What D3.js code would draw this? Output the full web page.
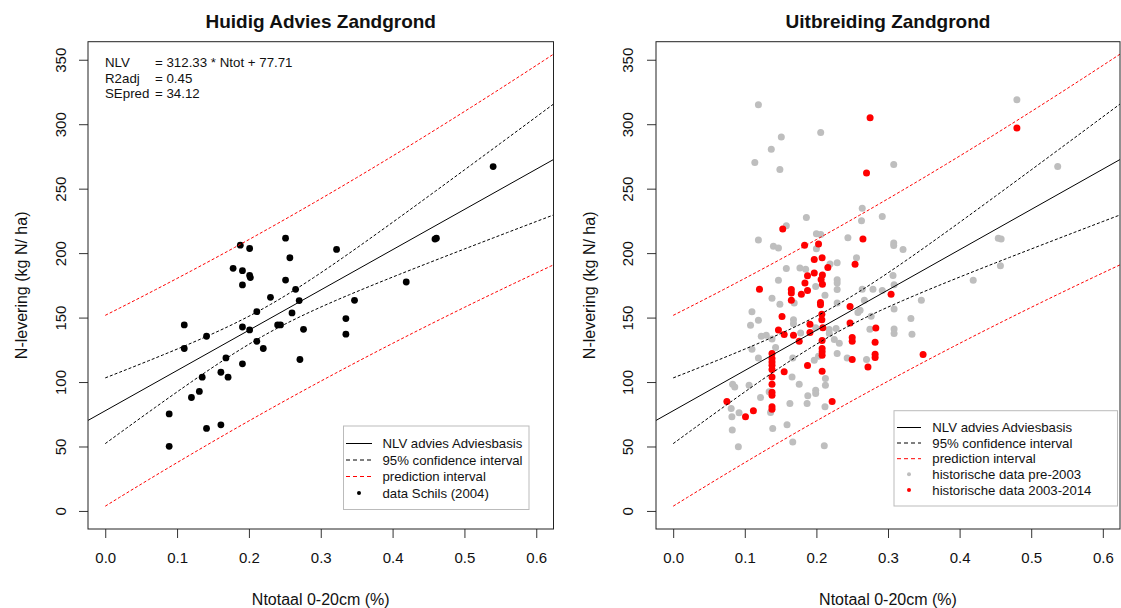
<!DOCTYPE html>
<html><head><meta charset="utf-8">
<script src="https://cdn.jsdelivr.net/npm/d3@7"></script>
<style>
body{margin:0;background:#fff}
svg text{font-family:Arial,"Liberation Sans",sans-serif;fill:#111}
</style>
</head><body>
<svg id="chart" width="1121" height="608"></svg>
<script>
// ---------- data ----------
const xTickValues = [0.0, 0.1, 0.2, 0.3, 0.4, 0.5, 0.6];
const yTickValues = [0, 50, 100, 150, 200, 250, 300, 350];
const titles = ["Huidig Advies Zandgrond", "Uitbreiding Zandgrond"];
const xAxisTitle = "Ntotaal 0-20cm (%)";
const yAxisTitle = "N-levering (kg N/ ha)";
const annotationLabels = ["NLV", "R2adj", "SEpred"];
const annotationValues = ["= 312.33 * Ntot + 77.71", "= 0.45", "= 34.12"];
const legendLeft = ["NLV advies Adviesbasis", "95% confidence interval", "prediction interval", "data Schils (2004)"];
const legendRight = ["NLV advies Adviesbasis", "95% confidence interval", "prediction interval", "historische data pre-2003", "historische data 2003-2014"];

// regression model (from figure annotation) and band parameters
const fitSlope = 312.33, fitIntercept = 77.71;
const fitN = 43, fitXMean = 0.223, fitSxx = 0.447, fitSigma = 34.4, fitT = 2.02;

// data Schils (2004): [Ntot, NLV]
const schilsData = [
 [0.540,267.1],[0.459,210.9],[0.461,211.6],[0.188,206.2],[0.201,203.6],[0.251,211.6],[0.322,202.9],
 [0.257,196.4],[0.178,188.2],[0.191,186.4],[0.201,182.7],[0.202,181.0],[0.191,175.3],[0.251,179.1],
 [0.419,177.6],[0.265,171.9],[0.230,165.7],[0.270,163.2],[0.347,163.4],[0.211,154.6],[0.260,153.6],
 [0.110,144.3],[0.191,142.7],[0.201,140.4],[0.240,144.3],[0.244,144.3],[0.276,140.9],[0.335,149.2],
 [0.335,137.1],[0.141,135.5],[0.110,126.0],[0.211,131.6],[0.220,126.0],[0.168,118.7],[0.271,117.5],
 [0.191,114.1],[0.135,103.8],[0.161,107.6],[0.171,103.8],[0.131,92.7],[0.120,88.0],[0.089,75.3],
 [0.141,64.0],[0.161,66.8],[0.089,50.1]
];

// historische data pre-2003 (grey)
const pre2003Data = [
 [0.119,315],[0.480,319],[0.151,290],[0.206,293.5],[0.137,280.6],[0.114,270.3],[0.149,264.8],[0.308,268.7],
 [0.537,267.1],[0.264,234.9],[0.186,227.7],[0.292,228.4],[0.263,225.1],[0.158,221.2],[0.119,210.1],[0.200,215],
 [0.206,214.5],[0.244,212],[0.454,211.6],[0.458,210.9],[0.140,205.4],[0.147,203.9],[0.200,203.4],[0.308,207.8],
 [0.308,206],[0.321,202.9],[0.256,196.4],[0.229,192.6],[0.219,191.5],[0.457,190.3],[0.158,188],[0.177,188.5],
 [0.185,187.5],[0.147,178.9],[0.229,179.4],[0.229,176.8],[0.264,171.9],[0.279,171.9],[0.3085,175.5],[0.419,178.9],
 [0.169,161.3],[0.138,164.9],[0.229,161.3],[0.212,167.3],[0.229,171.7],[0.267,163.4],[0.3466,163.4],[0.3085,156.7],
 [0.110,154.6],[0.119,147.9],[0.108,144],[0.168,148.4],[0.168,145.3],[0.199,142.2],[0.123,135.5],[0.130,136.3],
 [0.138,133.4],[0.178,138.1],[0.218,140.7],[0.218,137.6],[0.2275,141.5],[0.258,153.9],[0.261,155.6],[0.2765,151],
 [0.2747,140.9],[0.3085,141.2],[0.3085,137.6],[0.332,149.2],[0.3335,137.1],[0.143,126.8],[0.110,125.4],[0.229,122.1],
 [0.243,118.7],[0.270,117.5],[0.119,118.7],[0.167,118.7],[0.197,116.9],[0.166,104],[0.2126,102.8],[0.2126,97.6],
 [0.083,98.3],[0.086,96.2],[0.106,97.6],[0.176,98.3],[0.199,93.7],[0.199,91.1],[0.134,92.4],[0.122,88],
 [0.188,89.3],[0.163,83.4],[0.187,83.4],[0.081,79.5],[0.092,76.1],[0.082,73],[0.136,76.4],[0.212,80.8],
 [0.0825,62.7],[0.139,64],[0.159,66.8],[0.091,49.8],[0.167,53.4],[0.211,50.6],[0.225,133],[0.232,130],
 [0.203,120],[0.199,174.2],[0.292,171.1],[0.307,182.7],[0.149,160.3]
];

// historische data 2003-2014 (red)
const post2003Data = [
 [0.275,305.1],[0.480,297.1],[0.270,262.2],[0.153,218.7],[0.1835,206.2],[0.203,207],[0.265,210.9],[0.197,195.1],
 [0.208,196.4],[0.216,188.9],[0.254,191.3],[0.1876,182.5],[0.2084,183],[0.197,184.5],[0.184,176.8],[0.2066,179.6],
 [0.2084,175.8],[0.3043,168],[0.1205,171.9],[0.165,171.7],[0.165,169],[0.179,168],[0.1876,171.1],[0.165,163.4],
 [0.2057,161.6],[0.2057,160],[0.247,158.5],[0.152,150.8],[0.2076,152.5],[0.2076,148.4],[0.191,144.8],[0.209,142.2],
 [0.147,140.4],[0.155,136.8],[0.168,136.3],[0.191,138.4],[0.247,145.8],[0.283,141.9],[0.250,134.5],[0.250,131.6],
 [0.176,131.6],[0.208,132.2],[0.282,130.9],[0.138,122.1],[0.138,118.2],[0.138,115.6],[0.138,113],[0.208,126],
 [0.208,123.4],[0.208,120.8],[0.282,121.6],[0.282,119],[0.250,117.5],[0.349,121.3],[0.1876,112.8],[0.272,111.7],
 [0.138,109.7],[0.138,104],[0.138,98.3],[0.155,107.9],[0.208,108.4],[0.138,92.1],[0.138,89.8],[0.222,84.9],
 [0.075,84.9],[0.138,80.8],[0.138,78.8],[0.112,77.7],[0.101,73]
];

// ---------- layout ----------
const svg = d3.select("#chart");
const xLim = [-0.024, 0.624], yLim = [-14, 364];
const plotTop = 41.7, plotBottom = 529;
const panels = [
 {x0: 88, x1: 553.5, yTickX: 65.5, yTitleX: 27, legend: legendLeft,
  legendBox: {x: 343.5, y: 426, w: 185.5, h: 83.5}, legendRows: [443.5, 460, 476.5, 493],
  legendLine: [346, 372], legendText: 382.5},
 {x0: 656, x1: 1120, yTickX: 632.7, yTitleX: 595, legend: legendRight,
  legendBox: {x: 894, y: 410.7, w: 223.5, h: 95.3}, legendRows: [427.5, 443, 458.7, 474.3, 490],
  legendLine: [897, 921], legendText: 932.3}
];

function band(xv, mult, pred) {
  const se = Math.sqrt(1 / fitN + (xv - fitXMean) ** 2 / fitSxx);
  const hw = fitT * fitSigma * (pred ? Math.sqrt(1 + se * se) : se);
  return fitIntercept + fitSlope * xv + mult * hw;
}
const bandGrid = d3.range(0, 0.7001, 0.01);

panels.forEach((p, i) => {
  const x = d3.scaleLinear().domain(xLim).range([p.x0, p.x1]);
  const y = d3.scaleLinear().domain(yLim).range([plotBottom, plotTop]);
  const g = svg.append("g");
  const clipId = "clip" + i;
  svg.append("clipPath").attr("id", clipId).append("rect")
    .attr("x", p.x0).attr("y", plotTop).attr("width", p.x1 - p.x0).attr("height", plotBottom - plotTop);

  // title
  g.append("text").attr("x", (p.x0 + p.x1) / 2).attr("y", 28).attr("text-anchor", "middle")
    .style("font-size", "19px").style("font-weight", "bold").text(titles[i]);

  // axes
  const xa = g.append("g").attr("transform", `translate(0,${plotBottom})`)
    .call(d3.axisBottom(x).tickValues(xTickValues).tickFormat(d3.format(".1f")).tickSize(9).tickSizeOuter(0).tickPadding(14));
  xa.selectAll("text").style("font-size", "15px").style("font-family", "Arial, 'Liberation Sans', sans-serif").attr("fill", "#111");
  xa.selectAll("line").attr("stroke", "#333");
  xa.select(".domain").remove();

  const ya = g.append("g").attr("transform", `translate(${p.x0},0)`)
    .call(d3.axisLeft(y).tickValues(yTickValues).tickSize(9).tickSizeOuter(0));
  ya.selectAll("text").style("font-size", "15px").style("font-family", "Arial, 'Liberation Sans', sans-serif")
    .attr("fill", "#111").attr("x", 0).attr("dy", null).attr("text-anchor", "middle")
    .attr("transform", `translate(${p.yTickX - p.x0},0) rotate(-90)`);
  ya.selectAll("line").attr("stroke", "#333");
  ya.select(".domain").remove();

  // axis titles
  g.append("text").attr("x", (p.x0 + p.x1) / 2).attr("y", 605).attr("text-anchor", "middle")
    .style("font-size", "16px").text(xAxisTitle);
  g.append("text").attr("transform", `translate(${p.yTitleX},${(plotTop + plotBottom) / 2}) rotate(-90)`)
    .attr("text-anchor", "middle").style("font-size", "16px").text(yAxisTitle);

  const plot = g.append("g").attr("clip-path", `url(#${clipId})`);

  // points
  if (i === 0) {
    plot.selectAll("circle.s").data(schilsData).join("circle")
      .attr("cx", d => x(d[0])).attr("cy", d => y(d[1])).attr("r", 3.4).attr("fill", "#000");
  } else {
    plot.selectAll("circle.g").data(pre2003Data).join("circle").attr("class", "g")
      .attr("cx", d => x(d[0])).attr("cy", d => y(d[1])).attr("r", 3.5).attr("fill", "#BEBEBE");
    plot.selectAll("circle.r").data(post2003Data).join("circle").attr("class", "r")
      .attr("cx", d => x(d[0])).attr("cy", d => y(d[1])).attr("r", 3.5).attr("fill", "#FF0000");
  }

  // regression line (abline)
  plot.append("line").attr("x1", x(xLim[0])).attr("y1", y(fitIntercept + fitSlope * xLim[0]))
    .attr("x2", x(xLim[1])).attr("y2", y(fitIntercept + fitSlope * xLim[1]))
    .attr("stroke", "#000").attr("stroke-width", 1);
  const ln = d3.line().x(d => x(d[0])).y(d => y(d[1]));
  [[-1, false, "#000"], [1, false, "#000"], [-1, true, "#FF0000"], [1, true, "#FF0000"]].forEach(([m, pr, col]) => {
    plot.append("path").attr("d", ln(bandGrid.map(v => [v, band(v, m, pr)])))
      .attr("fill", "none").attr("stroke", col).attr("stroke-width", 1).attr("stroke-dasharray", "3,2");
  });

  // box
  g.append("rect").attr("x", p.x0).attr("y", plotTop).attr("width", p.x1 - p.x0).attr("height", plotBottom - plotTop)
    .attr("fill", "none").attr("stroke", "#222").attr("stroke-width", 1);

  // annotation
  if (i === 0) {
    annotationLabels.forEach((t, k) => {
      g.append("text").attr("x", 105).attr("y", 67 + k * 15.5).style("font-size", "13.3px").text(t);
      g.append("text").attr("x", 155).attr("y", 67 + k * 15.5).style("font-size", "13.3px").text(annotationValues[k]);
    });
  }

  // legend
  const lb = p.legendBox;
  g.append("rect").attr("x", lb.x).attr("y", lb.y).attr("width", lb.w).attr("height", lb.h)
    .attr("fill", "#fff").attr("stroke", "#bbb").attr("stroke-width", 1);
  p.legend.forEach((t, k) => {
    const ry = p.legendRows[k];
    g.append("text").attr("x", p.legendText).attr("y", ry + 4.7).style("font-size", "13.2px").text(t);
    if (k < 3) {
      g.append("line").attr("x1", p.legendLine[0]).attr("x2", p.legendLine[1]).attr("y1", ry).attr("y2", ry)
        .attr("stroke", k === 2 ? "#FF0000" : "#000").attr("stroke-width", 1)
        .attr("stroke-dasharray", k === 0 ? null : "4,3");
    } else {
      const col = i === 0 ? "#000" : (k === 3 ? "#BEBEBE" : "#FF0000");
      g.append("circle").attr("cx", (p.legendLine[0] + p.legendLine[1]) / 2).attr("cy", ry).attr("r", 2).attr("fill", col);
    }
  });
});
</script>
</body></html>
